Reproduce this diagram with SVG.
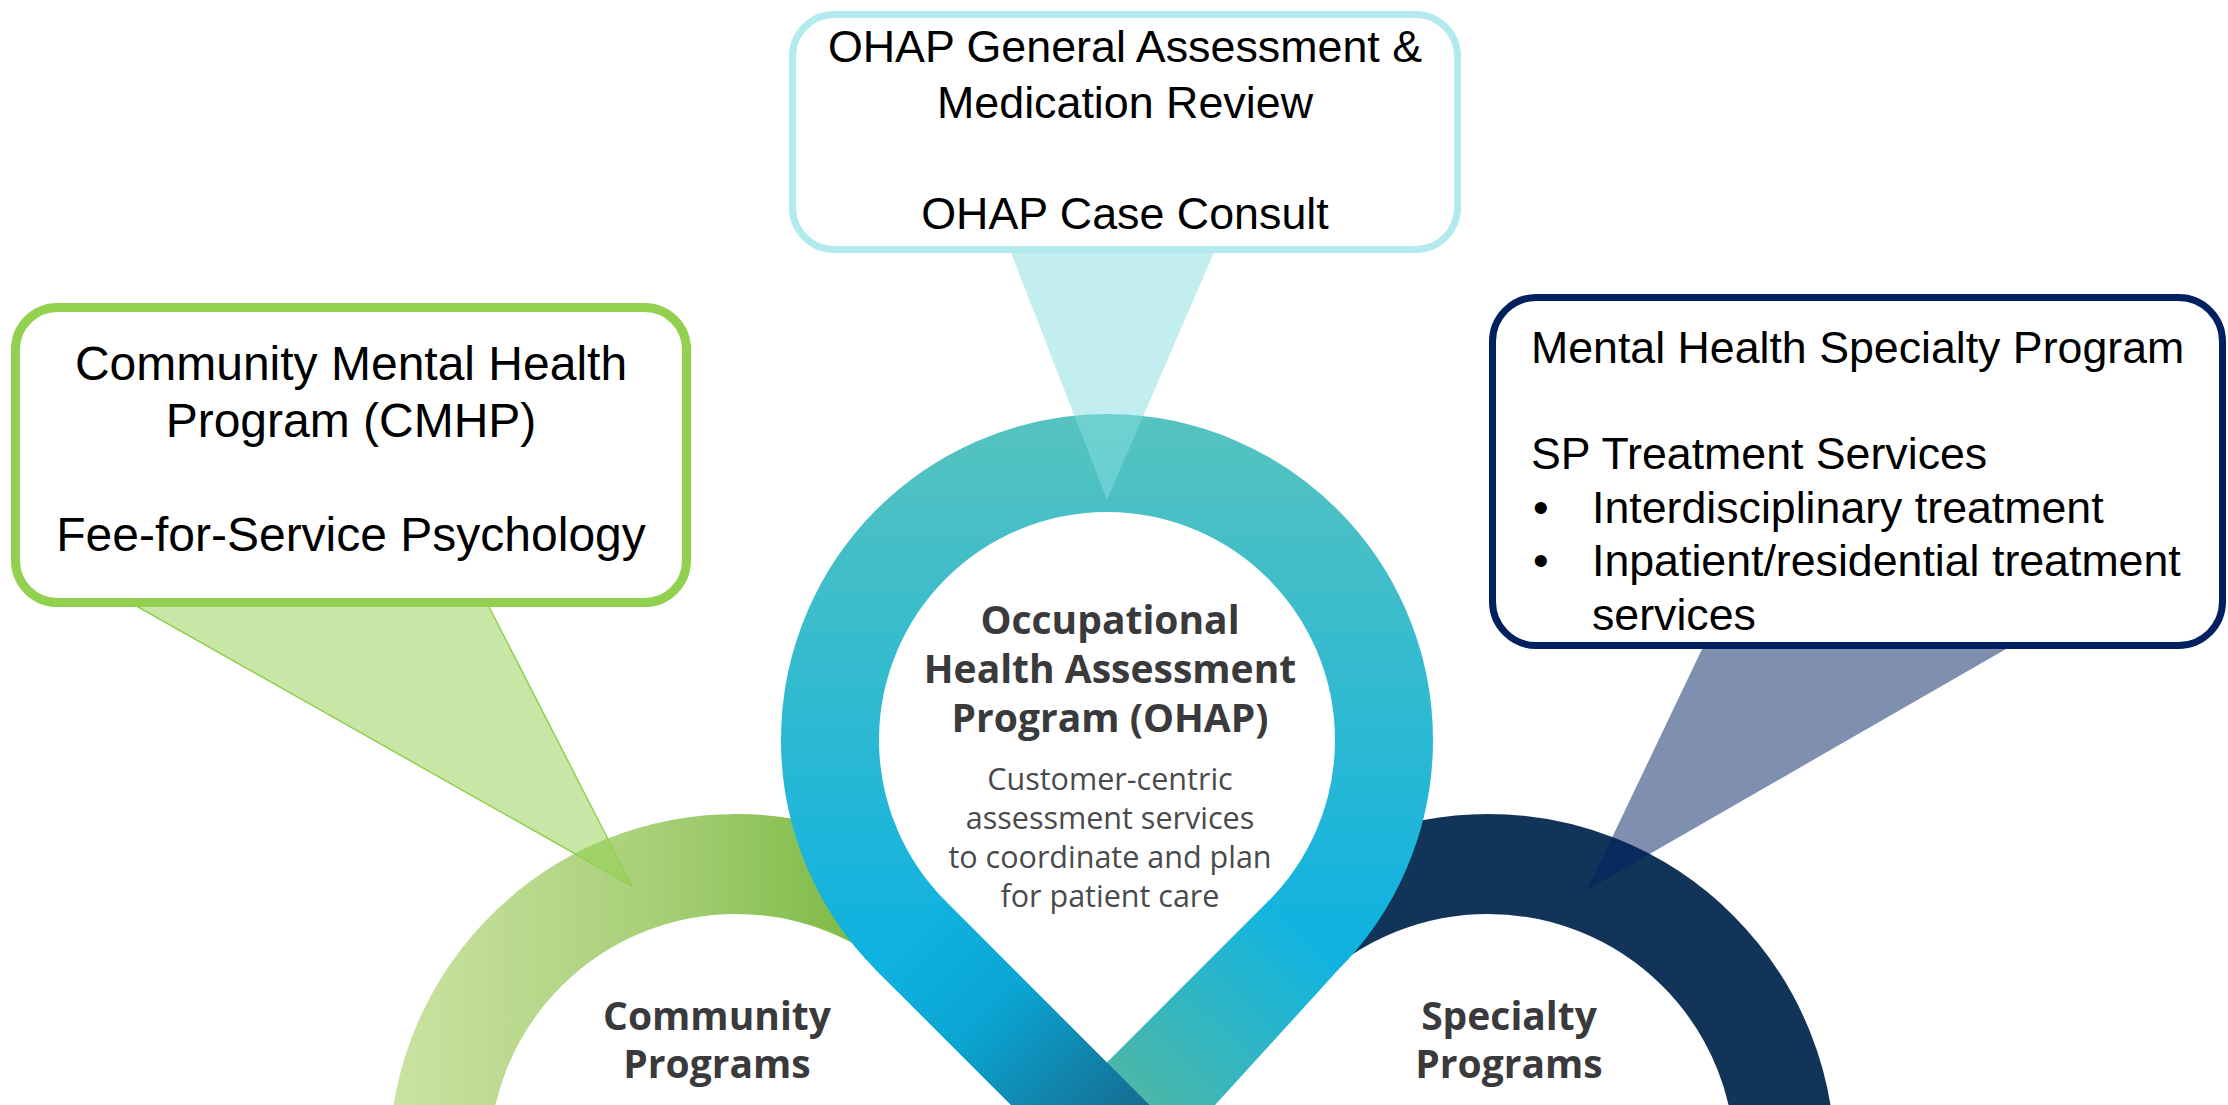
<svg xmlns="http://www.w3.org/2000/svg" width="2228" height="1105" viewBox="0 0 2228 1105">
<style>
.call{font-family:"Liberation Sans",Arial,sans-serif;fill:#000}
.c44{font-size:44.8px}
.c45{font-size:44.7px}
.c48{font-size:48px}
.mid{text-anchor:middle}
.title{font-family:"Open Sans","Noto Sans",sans-serif;font-weight:700;font-size:39px;fill:#3a3a3c;text-anchor:middle}
.sub{font-family:"Open Sans","Noto Sans",sans-serif;font-weight:400;font-size:30.5px;fill:#4a4a4c;text-anchor:middle}
</style>
<defs>
<linearGradient id="gGreen" gradientUnits="userSpaceOnUse" x1="390" y1="0" x2="900" y2="0">
<stop offset="0" stop-color="#cbe3a2"/>
<stop offset="0.5" stop-color="#a9d07a"/>
<stop offset="1" stop-color="#74b63b"/>
</linearGradient>
<linearGradient id="gRing" gradientUnits="userSpaceOnUse" x1="0" y1="414" x2="0" y2="940">
<stop offset="0" stop-color="#56c3bf"/>
<stop offset="1" stop-color="#10b2e0"/>
</linearGradient>
<linearGradient id="gLeftBand" gradientUnits="userSpaceOnUse" x1="911" y1="936" x2="1130" y2="1155">
<stop offset="0" stop-color="#10b2e0"/>
<stop offset="0.35" stop-color="#0aa5d3"/>
<stop offset="1" stop-color="#176487"/>
</linearGradient>
<linearGradient id="gRightBand" gradientUnits="userSpaceOnUse" x1="1303" y1="936" x2="1120" y2="1119">
<stop offset="0" stop-color="#12b4e0"/>
<stop offset="1" stop-color="#52b7a2"/>
</linearGradient>
<clipPath id="clipGreen"><path d="M0 0H2228V940H879L984 1045H930V1105H0Z"/></clipPath>
<clipPath id="clipNavy"><path d="M0 0H2228V1105H1290V1036H1239L1335 940H0Z"/></clipPath>
</defs>
<rect width="2228" height="1105" fill="#fff"/>

<g id="community-programs">
<circle cx="736" cy="1161" r="297" fill="none" stroke="url(#gGreen)" stroke-width="100" clip-path="url(#clipGreen)"/>
<text class="title" x="717" y="1030">Community</text>
<text class="title" x="717" y="1078">Programs</text>
</g>

<g id="specialty-programs">
<circle cx="1488" cy="1161" r="297" fill="none" stroke="#133459" stroke-width="100" clip-path="url(#clipNavy)"/>
<text class="title" x="1509" y="1030">Specialty</text>
<text class="title" x="1509" y="1078">Programs</text>
</g>

<g id="ohap">
<circle cx="1107" cy="740" r="232" fill="#fff"/>
<polygon points="940,896 1107,1066 1274,896 1107,740" fill="#fff"/>
<polygon points="1269.6,899.8 1338.9,969.1 1110.3,1220 949.4,1220" fill="url(#gRightBand)"/>
<path d="M911.1 935.9 A277 277 0 1 1 1302.9 935.9" fill="none" stroke="url(#gRing)" stroke-width="98"/>
<line x1="909.7" y1="934.5" x2="1215" y2="1239.8" stroke="url(#gLeftBand)" stroke-width="98"/>
<text class="title" x="1110" y="634">Occupational</text>
<text class="title" x="1110" y="683">Health Assessment</text>
<text class="title" x="1110" y="732">Program (OHAP)</text>
<text class="sub" x="1110" y="790">Customer-centric</text>
<text class="sub" x="1110" y="829">assessment services</text>
<text class="sub" x="1110" y="868">to coordinate and plan</text>
<text class="sub" x="1110" y="907">for patient care</text>
</g>

<g id="connectors">
<polygon points="1010,250 1215,250 1107,500" fill="#87dde1" fill-opacity="0.5"/>
<polygon points="131,603 487,603 632,886" fill="#92d050" fill-opacity="0.5" stroke="#92d050" stroke-width="1.5"/>
<polygon points="1704,645 2013,645 1587,890" fill="#002060" fill-opacity="0.5"/>
</g>

<g id="box-ohap">
<rect x="792.5" y="14.5" width="665" height="235" rx="42" fill="#fff" stroke="#b2eaee" stroke-width="7"/>
<text class="call c44 mid" x="1125" y="62">OHAP General Assessment &amp;</text>
<text class="call c44 mid" x="1125" y="118">Medication Review</text>
<text class="call c44 mid" x="1125" y="229">OHAP Case Consult</text>
</g>

<g id="box-community">
<rect x="15.5" y="307.5" width="671" height="295" rx="42" fill="#fff" stroke="#92d050" stroke-width="9"/>
<text class="call c48 mid" x="351" y="380">Community Mental Health</text>
<text class="call c48 mid" x="351" y="437">Program (CMHP)</text>
<text class="call c48 mid" x="351" y="551">Fee-for-Service Psychology</text>
</g>

<g id="box-specialty">
<rect x="1492.5" y="297.5" width="730" height="348" rx="44" fill="#fff" stroke="#002060" stroke-width="7"/>
<text class="call c45" x="1531" y="363">Mental Health Specialty Program</text>
<text class="call c45" x="1531" y="469">SP Treatment Services</text>
<text class="call c45" x="1533" y="523">•</text>
<text class="call c45" x="1592" y="523">Interdisciplinary treatment</text>
<text class="call c45" x="1533" y="576">•</text>
<text class="call c45" x="1592" y="576">Inpatient/residential treatment</text>
<text class="call c45" x="1592" y="630">services</text>
</g>
</svg>
